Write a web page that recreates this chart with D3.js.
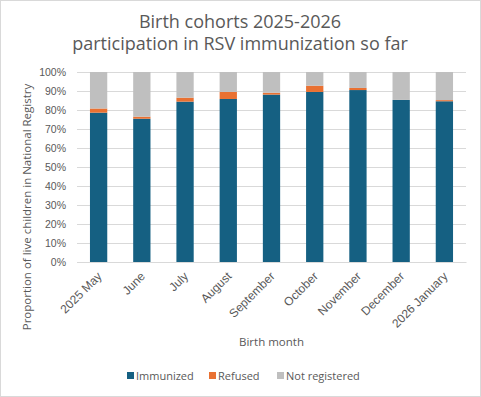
<!DOCTYPE html>
<html>
<head>
<meta charset="utf-8">
<script src="https://cdn.jsdelivr.net/npm/d3@7"></script>
<style>
  body { margin: 0; background: #fff; }
  svg { display: block; font-family: "Open Sans", sans-serif; }
</style>
</head>
<body>
<svg id="chart"></svg>
<script>
// data
const months = ['2025 May', 'June', 'July', 'August', 'September', 'October', 'November', 'December', '2026 January'];
const immunized = [78.6, 75.4, 84.4, 85.8, 88.1, 89.5, 90.5, 85.3, 84.6];
const refused = [2.2, 1.1, 2.1, 3.7, 1.0, 3.3, 1.1, 0.0, 0.6];
const notRegistered = [19.2, 23.5, 13.5, 10.5, 10.9, 7.2, 8.4, 14.7, 14.8];
const seriesNames = ['Immunized', 'Refused', 'Not registered'];
const colors = ['#156082', '#E97132', '#BFBFBF'];
const yTicks = [0, 10, 20, 30, 40, 50, 60, 70, 80, 90, 100];

const W = 481, H = 397;
const m = {top: 72, left: 77, right: 15, bottom: 135};
const w = W - m.left - m.right;
const h = H - m.top - m.bottom;

const svg = d3.select('#chart').attr('width', W).attr('height', H);

// chart border
svg.append('rect')
  .attr('x', 0.5).attr('y', 0.5)
  .attr('width', W - 1).attr('height', H - 1)
  .attr('fill', '#fff')
  .attr('stroke', '#d9d9d9');

// build rows for stacking
const rows = months.map((mo, i) => ({
  month: mo,
  'Immunized': immunized[i],
  'Refused': refused[i],
  'Not registered': notRegistered[i]
}));
const stacked = d3.stack().keys(seriesNames)(rows);

const x = d3.scaleBand().domain(months).range([0, w])
  .paddingInner(0.6).paddingOuter(0.3);
const y = d3.scaleLinear().domain([0, 100]).range([h, 0]);

const g = svg.append('g').attr('transform', `translate(${m.left},${m.top})`);

// gridlines + y labels
const yAxis = d3.axisLeft(y)
  .tickValues(yTicks)
  .tickSize(-w)
  .tickPadding(11)
  .tickFormat(d => d + '%');
g.append('g')
  .call(yAxis)
  .call(a => a.select('.domain').remove())
  .call(a => a.selectAll('line').attr('stroke', '#d9d9d9'))
  .call(a => a.selectAll('text').attr('fill', '#595959').style('font-size', '10.5px'));

// bars
g.selectAll('.series')
  .data(stacked)
  .join('g')
    .attr('fill', (d, i) => colors[i])
  .selectAll('rect')
  .data(d => d)
  .join('rect')
    .attr('x', d => x(d.data.month))
    .attr('y', d => y(d[1]))
    .attr('width', x.bandwidth())
    .attr('height', d => y(d[0]) - y(d[1]));

// x labels, rotated
const xAxis = d3.axisBottom(x).tickSize(0).tickPadding(0);
g.append('g')
  .attr('transform', `translate(0,${h})`)
  .call(xAxis)
  .call(a => a.select('.domain').attr('stroke', '#d9d9d9'))
  .call(a => a.selectAll('text')
    .attr('fill', '#595959')
    .style('font-size', '12px')
    .attr('text-anchor', 'end')
    .attr('dy', 0)
    .attr('transform', 'translate(4,15) rotate(-45)'));

// titles
const title = svg.append('text')
  .attr('text-anchor', 'middle')
  .attr('fill', '#595959')
  .style('font-size', '18px');
title.append('tspan').attr('x', 240).attr('y', 28).text('Birth cohorts 2025-2026');
title.append('tspan').attr('x', 240).attr('y', 50).text('participation in RSV immunization so far');

svg.append('text')
  .attr('transform', `translate(31,${207}) rotate(-90)`)
  .attr('text-anchor', 'middle')
  .attr('fill', '#595959')
  .style('font-size', '11.5px')
  .text('Proportion of live children in National Registry');

svg.append('text')
  .attr('x', m.left + w / 2)
  .attr('y', 346)
  .attr('text-anchor', 'middle')
  .attr('fill', '#595959')
  .style('font-size', '11.5px')
  .text('Birth month');

// legend
const legendX = [127, 209, 277];
const legend = svg.append('g');
seriesNames.forEach((name, i) => {
  legend.append('rect')
    .attr('x', legendX[i]).attr('y', 372)
    .attr('width', 7).attr('height', 7)
    .attr('fill', colors[i]);
  legend.append('text')
    .attr('x', legendX[i] + 9).attr('y', 380)
    .attr('fill', '#595959')
    .style('font-size', '11px')
    .text(name);
});
</script>
</body>
</html>
